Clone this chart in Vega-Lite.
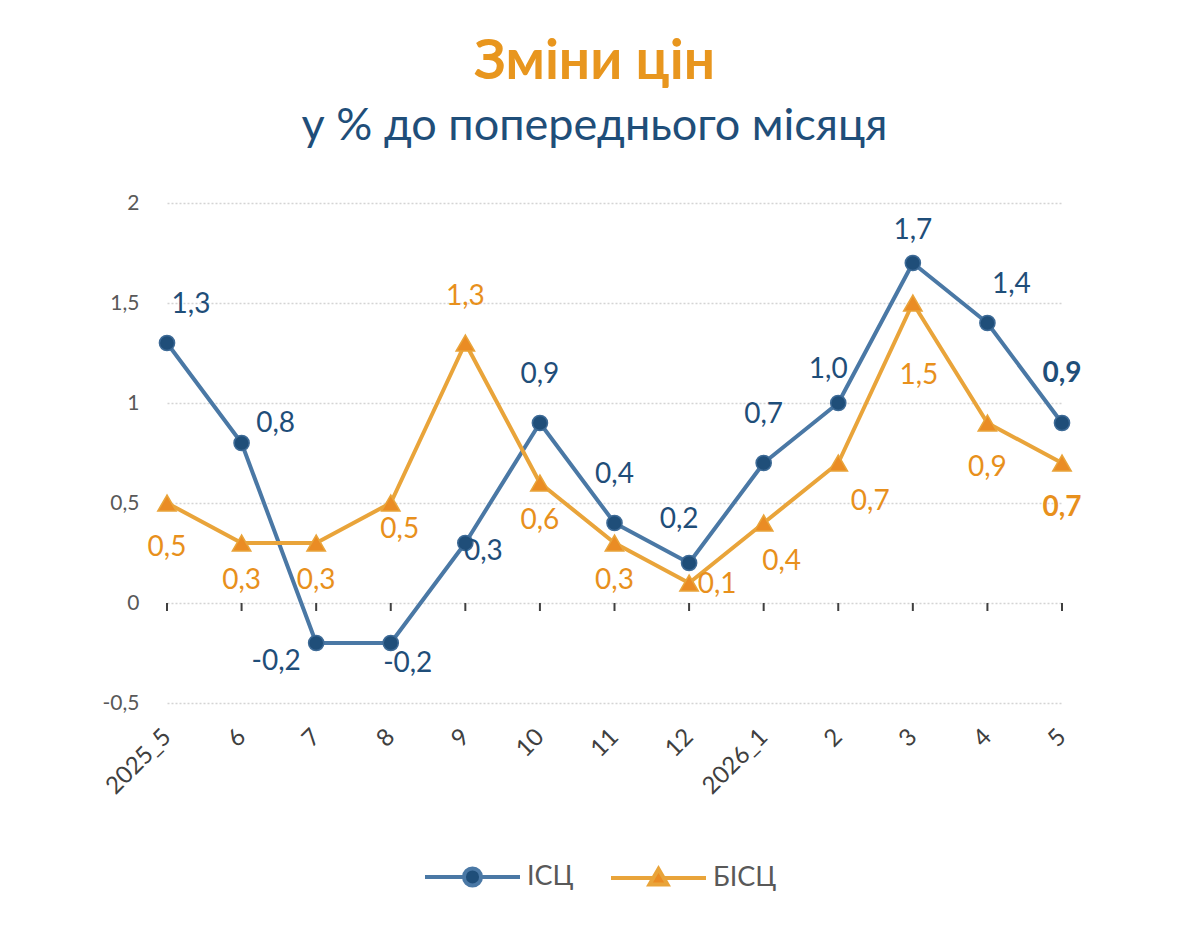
{
  "$schema": "https://vega.github.io/schema/vega-lite/v6.json",
  "width": 895,
  "height": 500,
  "autosize": "none",
  "padding": {"left": 167, "top": 203, "right": 138, "bottom": 240},
  "background": "#ffffff",
  "title": {
    "text": "Зміни цін",
    "subtitle": "у % до попереднього місяця",
    "anchor": "middle",
    "frame": "group",
    "dx": -20,
    "offset": 42,
    "font": "Lato",
    "fontSize": 55,
    "fontWeight": "bold",
    "color": "#e8961e",
    "subtitleFont": "Lato",
    "subtitleFontSize": 45,
    "subtitleColor": "#1f4e79",
    "subtitlePadding": 13
  },
  "data": {
    "values": [
      {"m": "2025_5", "s": "ІСЦ", "v": 1.3},
      {"m": "6", "s": "ІСЦ", "v": 0.8},
      {"m": "7", "s": "ІСЦ", "v": -0.2},
      {"m": "8", "s": "ІСЦ", "v": -0.2},
      {"m": "9", "s": "ІСЦ", "v": 0.3},
      {"m": "10", "s": "ІСЦ", "v": 0.9},
      {"m": "11", "s": "ІСЦ", "v": 0.4},
      {"m": "12", "s": "ІСЦ", "v": 0.2},
      {"m": "2026_1", "s": "ІСЦ", "v": 0.7},
      {"m": "2", "s": "ІСЦ", "v": 1.0},
      {"m": "3", "s": "ІСЦ", "v": 1.7},
      {"m": "4", "s": "ІСЦ", "v": 1.4},
      {"m": "5", "s": "ІСЦ", "v": 0.9},
      {"m": "2025_5", "s": "БІСЦ", "v": 0.5},
      {"m": "6", "s": "БІСЦ", "v": 0.3},
      {"m": "7", "s": "БІСЦ", "v": 0.3},
      {"m": "8", "s": "БІСЦ", "v": 0.5},
      {"m": "9", "s": "БІСЦ", "v": 1.3},
      {"m": "10", "s": "БІСЦ", "v": 0.6},
      {"m": "11", "s": "БІСЦ", "v": 0.3},
      {"m": "12", "s": "БІСЦ", "v": 0.1},
      {"m": "2026_1", "s": "БІСЦ", "v": 0.4},
      {"m": "2", "s": "БІСЦ", "v": 0.7},
      {"m": "3", "s": "БІСЦ", "v": 1.5},
      {"m": "4", "s": "БІСЦ", "v": 0.9},
      {"m": "5", "s": "БІСЦ", "v": 0.7}
    ]
  },
  "encoding": {
    "x": {
      "field": "m",
      "type": "ordinal",
      "scale": {"type": "point", "padding": 0, "domain": ["2025_5", "6", "7", "8", "9", "10", "11", "12", "2026_1", "2", "3", "4", "5"]},
      "axis": {
        "title": null,
        "domain": false,
        "ticks": false,
        "grid": false,
        "labelAngle": -45,
        "labelAlign": "right",
        "labelBaseline": "middle",
        "labelPadding": 30,
        "labelFont": "Lato",
        "labelFontSize": 24,
        "labelColor": "#404040"
      }
    },
    "y": {
      "field": "v",
      "type": "quantitative",
      "scale": {"domain": [-0.5, 2], "nice": false, "zero": false},
      "axis": {
        "title": null,
        "values": [-0.5, 0, 0.5, 1, 1.5, 2],
        "format": "~g",
        "domain": false,
        "ticks": false,
        "grid": true,
        "gridColor": "#d4d4d4",
        "gridDash": [2, 2],
        "gridWidth": 1.5,
        "labelPadding": 28,
        "labelFont": "Lato",
        "labelFontSize": 21,
        "labelColor": "#595959"
      }
    }
  },
  "layer": [
    {
      "data": {"values": [{}]},
      "mark": {"type": "rule", "color": "#404040", "strokeWidth": 2},
      "encoding": {"x": {"datum": "2025_5"}, "x2": {"datum": "5"}, "y": {"datum": 0}}
    },
    {
      "transform": [{"filter": {"field": "s", "equal": "ІСЦ"}}],
      "mark": {"type": "rule", "color": "#404040", "strokeWidth": 2},
      "encoding": {"y": {"datum": 0}, "y2": {"datum": -0.04}}
    },
    {
      "mark": {"type": "line", "strokeWidth": 4, "strokeCap": "round", "strokeJoin": "round"},
      "encoding": {
        "stroke": {
          "field": "s",
          "type": "nominal",
          "scale": {"domain": ["ІСЦ", "БІСЦ"], "range": ["#4a78a5", "#e9a43a"]},
          "legend": {
            "title": null,
            "orient": "none",
            "direction": "horizontal",
            "legendX": 256,
            "legendY": 660,
            "padding": 0,
            "columnPadding": 29,
            "symbolSize": 361,
            "symbolStrokeWidth": 4,
            "symbolOffset": 36,
            "labelOffset": 41,
            "labelFont": "Lato",
            "labelFontSize": 27,
            "labelColor": "#595959",
            "encoding": {
              "symbols": {
                "shape": {"value": {"expr": "datum.value === 'ІСЦ' ? 'M-5,0H-0.9M0.9,0H5M0.9,0A0.9,0.9 0 1,1 -0.9,0A0.9,0.9 0 1,1 0.9,0Z' : 'M-5,0H-0.6M0.6,0H5M0,-0.95L0.95,0.7H-0.95Z'"}},
                "fill": {"value": {"expr": "datum.value === 'ІСЦ' ? '#1f4e79' : '#ea8c24'"}},
                "stroke": {"value": {"expr": "datum.value === 'ІСЦ' ? '#4a78a5' : '#e9a43a'"}},
                "strokeWidth": {"value": 4},
                "size": {"value": 361},
                "opacity": {"value": 1},
                "fillOpacity": {"value": 1},
                "strokeOpacity": {"value": 1}
              }
            }
          }
        },
        "order": {"value": null}
      }
    },
    {
      "transform": [{"filter": {"field": "s", "equal": "ІСЦ"}}],
      "mark": {"type": "point", "shape": "circle", "filled": true, "opacity": 1, "size": 230, "fill": "#1f4e79", "stroke": "#3d6a96", "strokeWidth": 1.5}
    },
    {
      "transform": [{"filter": {"field": "s", "equal": "БІСЦ"}}],
      "mark": {"type": "point", "shape": "triangle-up", "filled": true, "opacity": 1, "size": 340, "fill": "#ea8c24", "stroke": "#e9a43a", "strokeWidth": 1.5}
    },
    {
      "transform": [{"filter": {"and": [{"field": "s", "equal": "ІСЦ"}, {"field": "m", "oneOf": ["10", "11", "2026_1"]}]}}],
      "mark": {"type": "text", "dx": 0, "dy": -48, "color": "#1f4e79"},
      "encoding": {"text": {"field": "v", "type": "quantitative", "format": ".1f"}}
    },
    {
      "transform": [{"filter": {"and": [{"field": "s", "equal": "ІСЦ"}, {"field": "m", "oneOf": ["12"]}]}}],
      "mark": {"type": "text", "dx": -10, "dy": -43, "color": "#1f4e79"},
      "encoding": {"text": {"field": "v", "type": "quantitative", "format": ".1f"}}
    },
    {
      "transform": [{"filter": {"and": [{"field": "s", "equal": "ІСЦ"}, {"field": "m", "oneOf": ["2"]}]}}],
      "mark": {"type": "text", "dx": -10, "dy": -33, "color": "#1f4e79"},
      "encoding": {"text": {"field": "v", "type": "quantitative", "format": ".1f"}}
    },
    {
      "transform": [{"filter": {"and": [{"field": "s", "equal": "ІСЦ"}, {"field": "m", "oneOf": ["3"]}]}}],
      "mark": {"type": "text", "dx": 0, "dy": -32, "color": "#1f4e79"},
      "encoding": {"text": {"field": "v", "type": "quantitative", "format": ".1f"}}
    },
    {
      "transform": [{"filter": {"and": [{"field": "s", "equal": "ІСЦ"}, {"field": "m", "oneOf": ["2025_5", "4"]}]}}],
      "mark": {"type": "text", "dx": 24, "dy": -38, "color": "#1f4e79"},
      "encoding": {"text": {"field": "v", "type": "quantitative", "format": ".1f"}}
    },
    {
      "transform": [{"filter": {"and": [{"field": "s", "equal": "ІСЦ"}, {"field": "m", "oneOf": ["6"]}]}}],
      "mark": {"type": "text", "dx": 34, "dy": -19, "color": "#1f4e79"},
      "encoding": {"text": {"field": "v", "type": "quantitative", "format": ".1f"}}
    },
    {
      "transform": [{"filter": {"and": [{"field": "s", "equal": "ІСЦ"}, {"field": "m", "oneOf": ["7"]}]}}],
      "mark": {"type": "text", "dx": -40, "dy": 19, "color": "#1f4e79"},
      "encoding": {"text": {"field": "v", "type": "quantitative", "format": ".1f"}}
    },
    {
      "transform": [{"filter": {"and": [{"field": "s", "equal": "ІСЦ"}, {"field": "m", "oneOf": ["8"]}]}}],
      "mark": {"type": "text", "dx": 17, "dy": 21, "color": "#1f4e79"},
      "encoding": {"text": {"field": "v", "type": "quantitative", "format": ".1f"}}
    },
    {
      "transform": [{"filter": {"and": [{"field": "s", "equal": "ІСЦ"}, {"field": "m", "oneOf": ["9"]}]}}],
      "mark": {"type": "text", "dx": 18, "dy": 9, "color": "#1f4e79"},
      "encoding": {"text": {"field": "v", "type": "quantitative", "format": ".1f"}}
    },
    {
      "transform": [{"filter": {"and": [{"field": "s", "equal": "ІСЦ"}, {"field": "m", "oneOf": ["5"]}]}}],
      "mark": {"type": "text", "dx": 0, "dy": -49, "color": "#1f4e79", "fontWeight": "bold"},
      "encoding": {"text": {"field": "v", "type": "quantitative", "format": ".1f"}}
    },
    {
      "transform": [{"filter": {"and": [{"field": "s", "equal": "БІСЦ"}, {"field": "m", "oneOf": ["2025_5", "4"]}]}}],
      "mark": {"type": "text", "dx": 0, "dy": 45, "color": "#e8901c"},
      "encoding": {"text": {"field": "v", "type": "quantitative", "format": ".1f"}}
    },
    {
      "transform": [{"filter": {"and": [{"field": "s", "equal": "БІСЦ"}, {"field": "m", "oneOf": ["6", "7", "10", "11"]}]}}],
      "mark": {"type": "text", "dx": 0, "dy": 38, "color": "#e8901c"},
      "encoding": {"text": {"field": "v", "type": "quantitative", "format": ".1f"}}
    },
    {
      "transform": [{"filter": {"and": [{"field": "s", "equal": "БІСЦ"}, {"field": "m", "oneOf": ["8"]}]}}],
      "mark": {"type": "text", "dx": 9, "dy": 27, "color": "#e8901c"},
      "encoding": {"text": {"field": "v", "type": "quantitative", "format": ".1f"}}
    },
    {
      "transform": [{"filter": {"and": [{"field": "s", "equal": "БІСЦ"}, {"field": "m", "oneOf": ["9"]}]}}],
      "mark": {"type": "text", "dx": 0, "dy": -46, "color": "#e8901c"},
      "encoding": {"text": {"field": "v", "type": "quantitative", "format": ".1f"}}
    },
    {
      "transform": [{"filter": {"and": [{"field": "s", "equal": "БІСЦ"}, {"field": "m", "oneOf": ["12"]}]}}],
      "mark": {"type": "text", "dx": 28, "dy": 2, "color": "#e8901c"},
      "encoding": {"text": {"field": "v", "type": "quantitative", "format": ".1f"}}
    },
    {
      "transform": [{"filter": {"and": [{"field": "s", "equal": "БІСЦ"}, {"field": "m", "oneOf": ["2026_1"]}]}}],
      "mark": {"type": "text", "dx": 18, "dy": 39, "color": "#e8901c"},
      "encoding": {"text": {"field": "v", "type": "quantitative", "format": ".1f"}}
    },
    {
      "transform": [{"filter": {"and": [{"field": "s", "equal": "БІСЦ"}, {"field": "m", "oneOf": ["2"]}]}}],
      "mark": {"type": "text", "dx": 32, "dy": 39, "color": "#e8901c"},
      "encoding": {"text": {"field": "v", "type": "quantitative", "format": ".1f"}}
    },
    {
      "transform": [{"filter": {"and": [{"field": "s", "equal": "БІСЦ"}, {"field": "m", "oneOf": ["3"]}]}}],
      "mark": {"type": "text", "dx": 6, "dy": 73, "color": "#e8901c"},
      "encoding": {"text": {"field": "v", "type": "quantitative", "format": ".1f"}}
    },
    {
      "transform": [{"filter": {"and": [{"field": "s", "equal": "БІСЦ"}, {"field": "m", "oneOf": ["5"]}]}}],
      "mark": {"type": "text", "dx": 0, "dy": 45, "color": "#e8901c", "fontWeight": "bold"},
      "encoding": {"text": {"field": "v", "type": "quantitative", "format": ".1f"}}
    }
  ],
  "config": {
    "font": "Lato",
    "view": {"stroke": null},
    "text": {"font": "Lato", "fontSize": 28, "align": "center", "baseline": "middle"},
    "locale": {
      "number": {"decimal": ",", "thousands": " ", "grouping": [3], "currency": ["", ""], "minus": "-"}
    }
  }
}
